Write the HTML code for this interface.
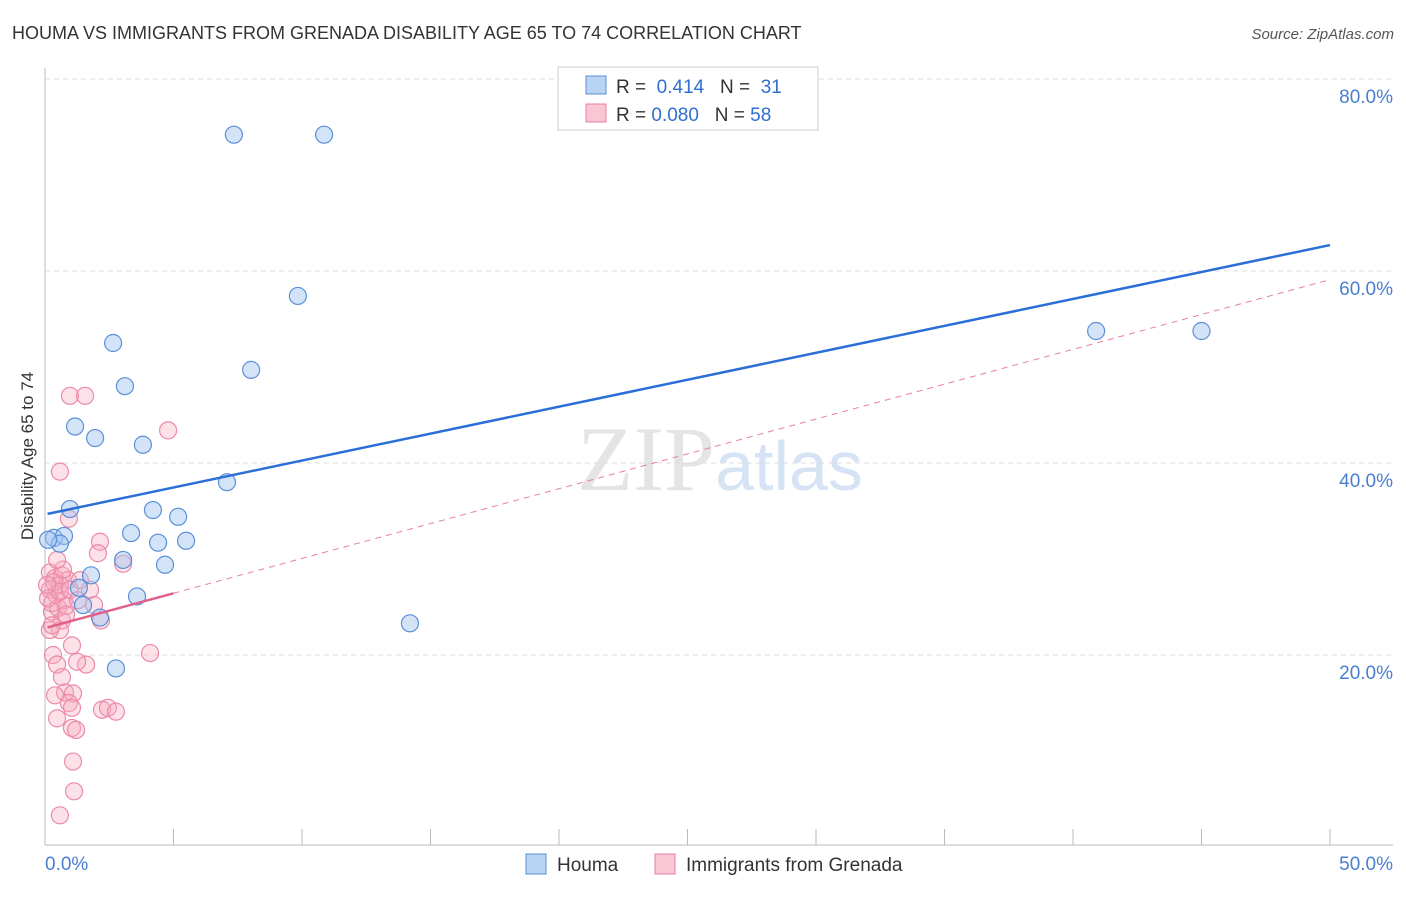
<!DOCTYPE html>
<html><head><meta charset="utf-8"><style>
body{margin:0;background:#fff;font-family:"Liberation Sans",sans-serif}
</style></head><body>
<svg width="1406" height="892" xmlns="http://www.w3.org/2000/svg" font-family="Liberation Sans, sans-serif">
<text x="12" y="39" font-size="18" fill="#333">HOUMA VS IMMIGRANTS FROM GRENADA DISABILITY AGE 65 TO 74 CORRELATION CHART</text>
<text x="1394" y="39" font-size="15" fill="#555" text-anchor="end" font-style="italic">Source: ZipAtlas.com</text>
<text x="720" y="490" font-size="92" text-anchor="middle" fill="#e4e4e4" font-family="Liberation Serif, serif">ZIP<tspan fill="#d5e3f5" font-family="Liberation Sans, sans-serif" font-size="70">atlas</tspan></text>
<g id="grid"></g><g id="axes"></g><g id="marks"></g>
<text transform="translate(33,456) rotate(-90)" font-size="17" fill="#333" text-anchor="middle">Disability Age 65 to 74</text>
<g>
<rect x="558" y="67" width="260" height="63" fill="#fff" stroke="#ccc"/>
<rect x="586" y="76" width="20" height="18" fill="#b9d3f3" stroke="#5b8fd8"/>
<text x="616" y="93" font-size="19" fill="#333">R = <tspan fill="#2f6fd0">&#160;0.414</tspan><tspan fill="#333">&#160;&#160;&#160;N = </tspan><tspan fill="#2f6fd0">&#160;31</tspan></text>
<rect x="586" y="104" width="20" height="18" fill="#f9c6d4" stroke="#e87fa0"/>
<text x="616" y="121" font-size="19" fill="#333">R = <tspan fill="#2f6fd0">0.080</tspan><tspan fill="#333">&#160;&#160;&#160;N = </tspan><tspan fill="#2f6fd0">58</tspan></text>
</g>
<g>
<rect x="526" y="854" width="20" height="20" fill="#b9d3f3" stroke="#5b8fd8"/>
<text x="557" y="871" font-size="19" fill="#333">Houma</text>
<rect x="655" y="854" width="20" height="20" fill="#f9c6d4" stroke="#e87fa0"/>
<text x="686" y="871" font-size="19" fill="#333">Immigrants from Grenada</text>
</g>
</svg>
<script>
const yTicks=[20,40,60,80];
const yTickLabels=["20.0%","40.0%","60.0%","80.0%"];
const xTickLabels=["0.0%","50.0%"];
const houmaX=[7.35,10.86,9.84,2.65,3.11,8.02,1.17,1.95,3.81,7.08,0.97,4.2,5.18,0.35,0.74,0.58,3.35,4.4,5.49,3.04,4.67,1.79,1.32,1.48,3.58,2.14,2.76,14.2,40.9,45.0,0.12];
const houmaY=[74.2,74.2,57.4,52.5,48.0,49.7,43.8,42.6,41.9,38.0,35.2,35.1,34.4,32.2,32.4,31.6,32.7,31.7,31.9,29.9,29.4,28.3,27.0,25.2,26.1,23.9,18.6,23.3,53.75,53.75,32.0];
const grenX=[0.97,1.56,4.79,0.58,0.93,2.14,2.06,3.04,2.18,0.66,1.05,0.58,0.31,4.09,1.6,1.25,0.47,0.66,0.78,1.09,0.39,0.93,1.05,0.47,2.22,2.45,2.76,1.05,1.21,1.09,1.13,0.58,0.19,0.27,0.19,0.39,0.66,0.89,0.19,0.43,0.58,0.74,0.27,0.51,0.82,0.12,0.35,0.58,0.97,1.28,0.08,0.7,1.91,1.75,0.47,0.27,0.82,1.36];
const grenY=[47.0,47.0,43.4,39.1,34.2,31.8,30.6,29.5,23.6,23.6,21.0,22.6,20.0,20.2,19.0,19.3,19.0,17.7,16.1,16.0,15.8,15.0,14.5,13.4,14.3,14.5,14.1,12.4,12.2,8.9,5.8,3.3,22.6,24.5,28.6,28.0,28.3,27.8,26.8,26.3,27.3,25.7,25.4,24.9,25.1,25.9,27.6,26.6,26.8,25.7,27.3,28.9,25.2,26.8,29.9,23.1,24.2,27.8];
const houmaTrend=[34.7,62.7];
const grenTrend=[22.8,59.1];
const grenSolidMax=5;
const NS="http://www.w3.org/2000/svg";
const X=v=>45+v*25.7, Y=v=>847-v*9.6;
function mk(p,t,a){const e=document.createElementNS(NS,t);for(const k in a)e.setAttribute(k,a[k]);p.appendChild(e);return e;}
const grid=document.getElementById('grid'),axes=document.getElementById('axes'),marks=document.getElementById('marks');
yTicks.forEach((t,i)=>{
 const l=mk(grid,'line',{x1:45,x2:1393,y1:Y(t),y2:Y(t),stroke:'#ddd','stroke-dasharray':'5,4'});
 
 
 const tx=mk(axes,'text',{x:1393,y:Y(t)+24,'font-size':19,fill:'#4a7fd0','text-anchor':'end'});
 tx.textContent=yTickLabels[i];
 
 
});
const ya=mk(axes,'line',{x1:45,x2:45,y1:68,y2:845,stroke:'#bbb'});


const xa=mk(axes,'line',{x1:45,x2:1393,y1:845,y2:845,stroke:'#bbb'});


for(let i=0;i<=10;i++){const t=mk(axes,'line',{x1:X(i*5),x2:X(i*5),y1:829,y2:845,stroke:'#bbb'});
 
 }
[[0,'start',45],[50,'end',1393]].forEach((d,i)=>{const t=mk(axes,'text',{x:d[2],y:870,'font-size':19,fill:'#4a7fd0','text-anchor':d[1]});t.textContent=xTickLabels[i];
 
 });
grenX.forEach((x,i)=>{const c=mk(marks,'circle',{cx:X(x),cy:Y(grenY[i]),r:8.5,fill:'rgba(246,170,192,0.35)',stroke:'#ec8aa8','stroke-width':1.2});
 
 });
houmaX.forEach((x,i)=>{const c=mk(marks,'circle',{cx:X(x),cy:Y(houmaY[i]),r:8.5,fill:'rgba(160,196,240,0.45)',stroke:'#5b8fd8','stroke-width':1.2});
 
 });
const gAt=x=>grenTrend[0]+(grenTrend[1]-grenTrend[0])*x/50;
const gd=mk(marks,'line',{x1:X(grenSolidMax),y1:Y(gAt(grenSolidMax)),x2:X(50),y2:Y(gAt(50)),stroke:'#e87fa0','stroke-width':1,'stroke-dasharray':'6,5'});


const gs=mk(marks,'line',{x1:X(0.1),y1:Y(gAt(0.1)),x2:X(grenSolidMax),y2:Y(gAt(grenSolidMax)),stroke:'#e0608a','stroke-width':2.5});


const ht=mk(marks,'line',{x1:X(0.1),y1:Y(houmaTrend[0]),x2:X(50),y2:Y(houmaTrend[1]),stroke:'#2a6fd6','stroke-width':2.5});


</script>
</body></html>
